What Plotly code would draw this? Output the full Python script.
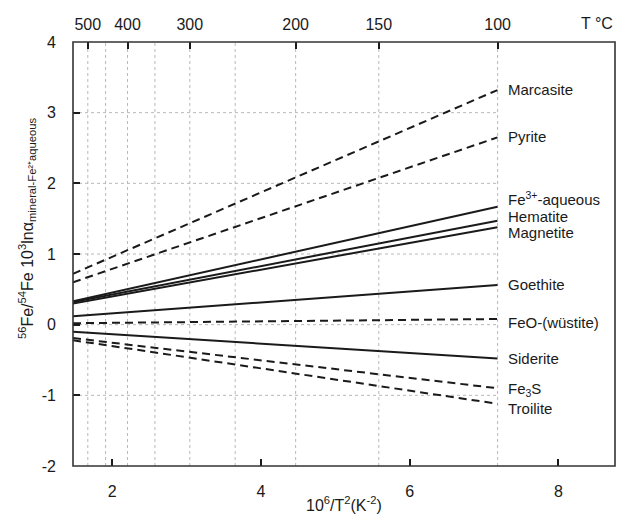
import plotly.graph_objects as go

# ---- data ----
x_pts = [1.474, 7.18]  # 10^6/T^2 range of curves (left axis to 100 °C)
names = ["Marcasite", "Pyrite", "Fe<sup>3+</sup>-aqueous", "Hematite", "Magnetite",
         "Goethite", "FeO-(wüstite)", "Siderite", "Fe<sub>3</sub>S", "Troilite"]
start_vals = [0.72, 0.60, 0.33, 0.32, 0.30, 0.12, 0.02, -0.10, -0.19, -0.22]
end_vals = [3.32, 2.65, 1.67, 1.47, 1.38, 0.56, 0.08, -0.48, -0.90, -1.12]
dashed = [True, True, False, False, False, False, True, False, True, True]
label_y = [3.33, 2.66, 1.78, 1.53, 1.30, 0.57, 0.03, -0.48, -0.92, -1.19]

grid_T = [500, 450, 400, 350, 300, 250, 200, 150, 100]
top_tick_T = [500, 400, 300, 200, 150, 100]
bottom_ticks = [2, 4, 6, 8]
y_ticks = [-2, -1, 0, 1, 2, 3, 4]
y_tick_text = ["-2", "-1", "0", "1", "2", "3", "4"]
h_grid = [-1, 0, 1, 2, 3]

def inv_t2(tc):
    return 1e6 / (tc + 273.15) ** 2

X0, X1 = 1.474, 8.76
Y0, Y1 = -2, 4
FONT = "Liberation Sans, Arial, sans-serif"
INK = "#1a1a1a"

fig = go.Figure()

for n, a, b, d in zip(names, start_vals, end_vals, dashed):
    fig.add_trace(go.Scatter(
        x=x_pts, y=[a, b], mode="lines", name=n, showlegend=False,
        line=dict(color=INK, width=2, dash="8px,5px" if d else "solid")))

# dummy trace for top axis
fig.add_trace(go.Scatter(x=[X0, X1], y=[0, 0], xaxis="x2", mode="lines",
                         line=dict(width=0), showlegend=False, hoverinfo="skip"))

shapes = []
for t in grid_T:
    xv = inv_t2(t)
    shapes.append(dict(type="line", xref="x", yref="y", x0=xv, x1=xv, y0=Y0, y1=Y1,
                       line=dict(color="#b8b8b8", width=1, dash="dot"), layer="below"))
for yv in h_grid:
    shapes.append(dict(type="line", xref="x", yref="y", x0=X0, x1=inv_t2(100), y0=yv, y1=yv,
                       line=dict(color="#b8b8b8", width=1, dash="dot"), layer="below"))
# frame
shapes.append(dict(type="rect", xref="paper", yref="paper", x0=0, x1=1, y0=0, y1=1,
                   line=dict(color="#333", width=1.6)))

annotations = []
for n, ly in zip(names, label_y):
    annotations.append(dict(x=7.29, y=ly, xref="x", yref="y", text=n, showarrow=False,
                            xanchor="left", yanchor="middle",
                            font=dict(size=15, color=INK, family=FONT)))
annotations.append(dict(x=8.52, y=1, xref="x", yref="paper", yshift=8,
                        text="T °C", showarrow=False, xanchor="center", yanchor="bottom",
                        font=dict(size=16, color=INK, family=FONT)))
annotations.append(dict(x=0.5, y=0, xref="paper", yref="paper", yshift=-50,
                        text="10<sup>6</sup>/T<sup>2</sup>(K<sup>-2</sup>)", showarrow=False,
                        xanchor="center", yanchor="bottom",
                        font=dict(size=16, color=INK, family=FONT)))
annotations.append(dict(x=0, y=0.5, xref="paper", yref="paper", xshift=-46, yshift=25,
                        text="<sup>56</sup>Fe/<sup>54</sup>Fe 10<sup>3</sup>lnα<sub>mineral-Fe²⁺aqueous</sub>",
                        textangle=-90, showarrow=False, xanchor="center", yanchor="middle",
                        font=dict(size=16, color=INK, family=FONT)))

fig.update_layout(
    width=620, height=517,
    margin=dict(l=73, r=5, t=42, b=51),
    paper_bgcolor="white", plot_bgcolor="white",
    font=dict(family=FONT, size=16, color=INK),
    shapes=shapes, annotations=annotations,
    xaxis=dict(range=[X0, X1], tickvals=bottom_ticks, ticks="inside", ticklen=7,
               tickwidth=2, tickcolor=INK, showgrid=False, zeroline=False,
               showline=False, ticklabelstandoff=14,
               tickfont=dict(size=16, family=FONT, color=INK)),
    xaxis2=dict(range=[X0, X1], overlaying="x", side="top",
                tickvals=[inv_t2(t) for t in top_tick_T],
                ticktext=[str(t) for t in top_tick_T], ticks="inside", ticklen=7,
                tickwidth=2, tickcolor=INK, showgrid=False, zeroline=False,
                showline=False, ticklabelstandoff=8,
                tickfont=dict(size=16, family=FONT, color=INK)),
    yaxis=dict(range=[Y0, Y1], tickvals=y_ticks, ticktext=y_tick_text,
               ticks="inside", ticklen=7,
               tickwidth=2, tickcolor=INK, showgrid=False, zeroline=False,
               showline=False, ticklabelstandoff=16,
               tickfont=dict(size=16, family=FONT, color=INK)),
)

fig.write_html("out.html")
